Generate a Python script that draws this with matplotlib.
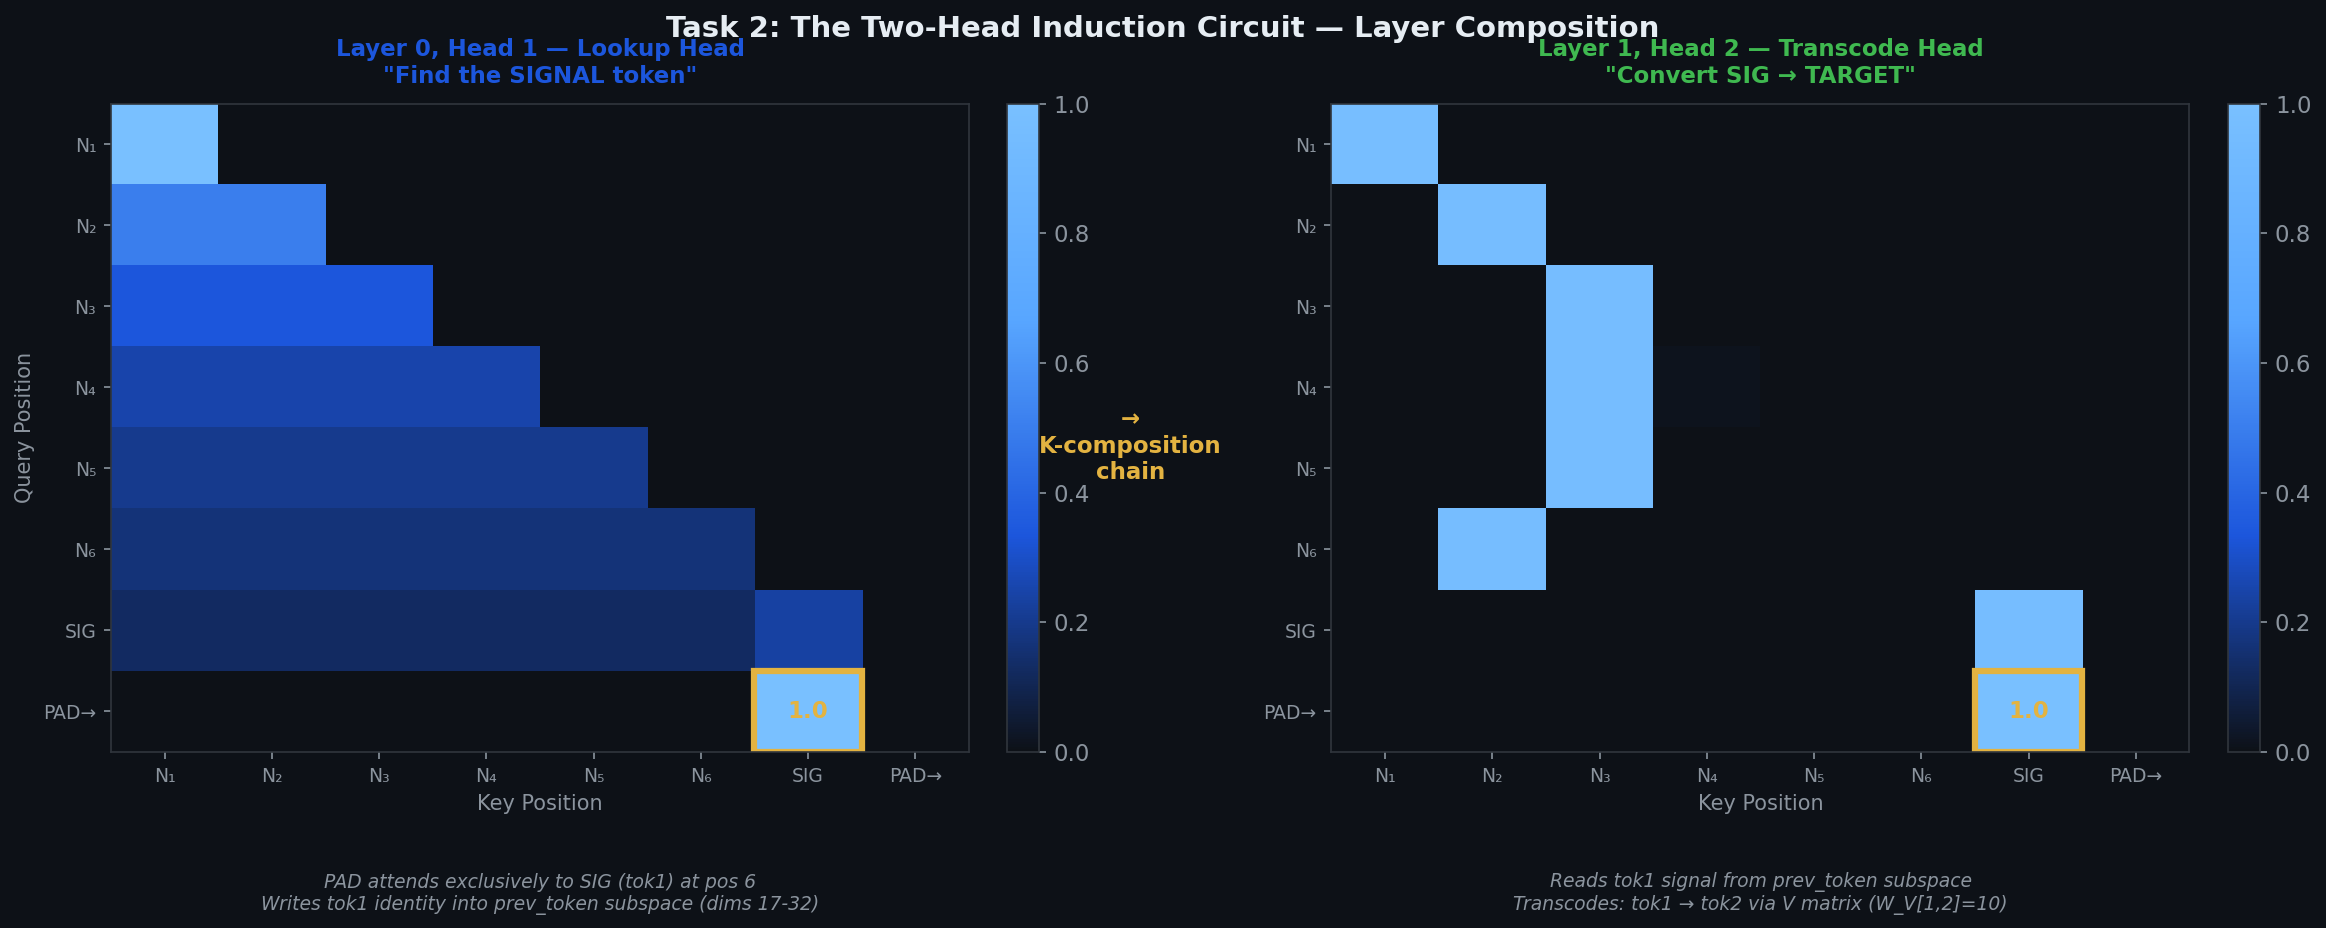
import numpy as np
import matplotlib
matplotlib.use("Agg")
import matplotlib.pyplot as plt
from matplotlib.colors import LinearSegmentedColormap
from matplotlib.patches import Rectangle

# トークン（キー / クエリ位置）
tokens = ["N₁", "N₂", "N₃", "N₄", "N₅", "N₆", "SIG", "PAD→"]

# Layer 0, Head 1 の注意重み（行=クエリ, 列=キー）
l0h1 = [
    [1.000, 0, 0, 0, 0, 0, 0, 0],
    [0.500, 0.500, 0, 0, 0, 0, 0, 0],
    [0.333, 0.333, 0.333, 0, 0, 0, 0, 0],
    [0.250, 0.250, 0.250, 0.250, 0, 0, 0, 0],
    [0.200, 0.200, 0.200, 0.200, 0.200, 0, 0, 0],
    [0.167, 0.167, 0.167, 0.167, 0.167, 0.167, 0, 0],
    [0.127, 0.127, 0.127, 0.127, 0.127, 0.127, 0.238, 0],
    [0, 0, 0, 0, 0, 0, 1.000, 0],
]

# Layer 1, Head 2 の注意重み
l1h2 = [
    [0.98, 0, 0, 0, 0, 0, 0, 0],
    [0, 0.97, 0, 0, 0, 0, 0, 0],
    [0, 0, 0.97, 0, 0, 0, 0, 0],
    [0, 0, 0.97, 0.012, 0, 0, 0, 0],
    [0, 0, 0.97, 0, 0, 0, 0, 0],
    [0, 0.97, 0, 0, 0, 0, 0, 0],
    [0, 0, 0, 0, 0, 0, 0.97, 0],
    [0, 0, 0, 0, 0, 0, 1.00, 0],
]

pad_row = 7
sig_col = 6
pad_value = "1.0"

BG = "#0d1117"
EDGE = "#30363d"
MUTED = "#8b949e"
GOLD = "#e3b341"
BLUE = "#1c56dc"
GREEN = "#3fb950"

cmap = LinearSegmentedColormap.from_list(
    "gh_blue", [BG, "#1c56dc", "#58a6ff", "#79c0ff"])

fig = plt.figure(figsize=(2326 / 150, 928 / 150), dpi=150, facecolor=BG)

ax_l = fig.add_axes([0.0477, 0.1897, 0.3689, 0.6986])
cax_l = fig.add_axes([0.4329, 0.1897, 0.0138, 0.6986])
ax_r = fig.add_axes([0.5724, 0.1897, 0.3689, 0.6986])
cax_r = fig.add_axes([0.9580, 0.1897, 0.0138, 0.6986])

panels = [
    (ax_l, cax_l, l0h1, 'Layer 0, Head 1 — Lookup Head\n"Find the SIGNAL token"', BLUE),
    (ax_r, cax_r, l1h2, 'Layer 1, Head 2 — Transcode Head\n"Convert SIG → TARGET"', GREEN),
]

for ax, cax, mat, title, tcolor in panels:
    ax.set_facecolor(BG)
    im = ax.imshow(np.array(mat), cmap=cmap, vmin=0, vmax=1,
                   aspect="auto", interpolation="nearest")
    ax.set_xticks(range(len(tokens)))
    ax.set_yticks(range(len(tokens)))
    ax.set_xticklabels(tokens)
    ax.set_yticklabels(tokens)
    ax.tick_params(colors=MUTED, labelsize=9)
    for sp in ax.spines.values():
        sp.set_color(EDGE)
    ax.set_xlabel("Key Position", color=MUTED, fontsize=10)
    ax.set_title(title, color=tcolor, fontsize=11, fontweight="bold", pad=10)

    # PAD → SIG のハイライト
    ax.add_patch(Rectangle((sig_col - 0.5, pad_row - 0.5), 1, 1,
                           fill=False, edgecolor=GOLD, linewidth=3))
    ax.text(sig_col, pad_row, pad_value, ha="center", va="center",
            color=GOLD, fontsize=11, fontweight="bold")

    cb = fig.colorbar(im, cax=cax)
    cb.outline.set_edgecolor(EDGE)
    cb.ax.tick_params(colors=MUTED, labelsize=11)
    cb.set_ticks([0, 0.2, 0.4, 0.6, 0.8, 1.0])

ax_l.set_ylabel("Query Position", color=MUTED, fontsize=10)

fig.suptitle("Task 2: The Two-Head Induction Circuit — Layer Composition",
             color="#e6edf3", fontsize=14, fontweight="bold", y=0.984)

fig.text(0.486, 0.519, "→\nK-composition\nchain", ha="center", va="center",
         color=GOLD, fontsize=11, fontweight="bold")

fig.text(0.232, 0.037,
         "PAD attends exclusively to SIG (tok1) at pos 6\n"
         "Writes tok1 identity into prev_token subspace (dims 17-32)",
         ha="center", va="center", color=MUTED, fontsize=9, style="italic")
fig.text(0.757, 0.037,
         "Reads tok1 signal from prev_token subspace\n"
         "Transcodes: tok1 → tok2 via V matrix (W_V[1,2]=10)",
         ha="center", va="center", color=MUTED, fontsize=9, style="italic")

fig.savefig("out.png", dpi=150, facecolor=BG)
